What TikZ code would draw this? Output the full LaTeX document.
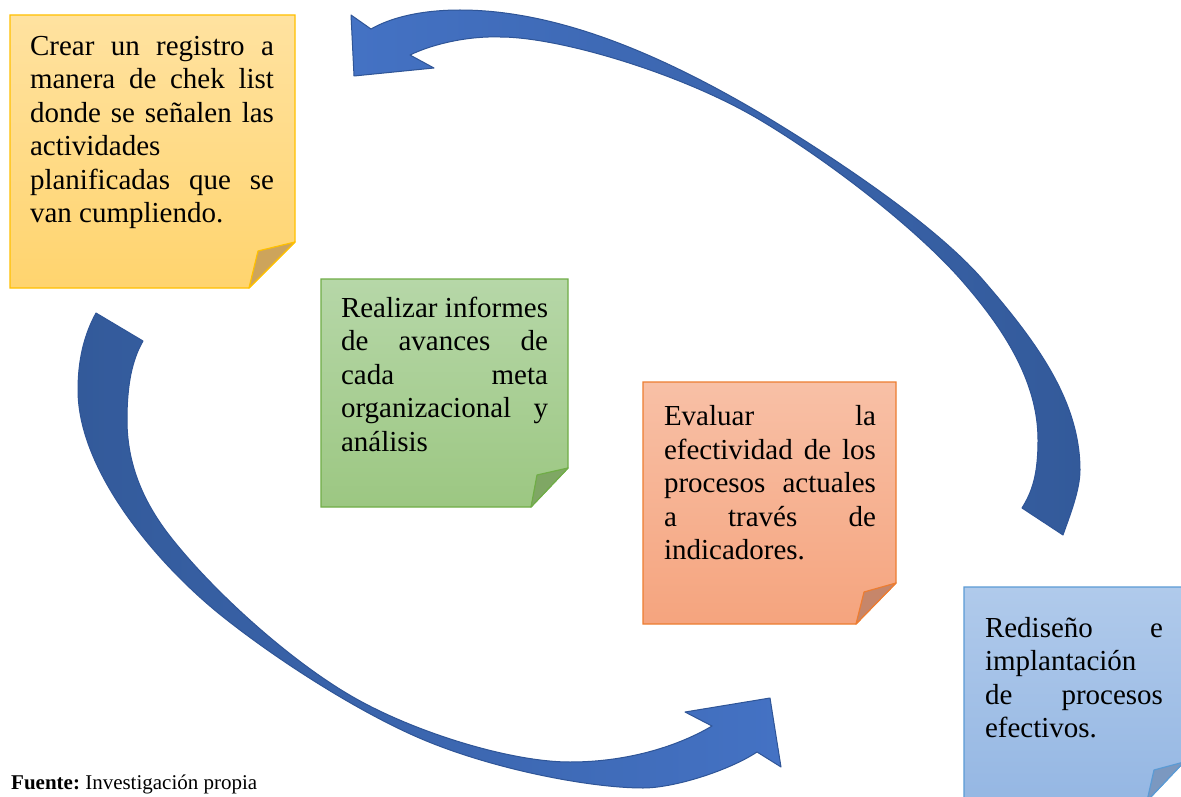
\documentclass[tikz,border=0pt]{standalone}
\usepackage{fontspec}
\setmainfont{Liberation Serif}
\definecolor{yTop}{HTML}{FFE2A0}
\definecolor{yBot}{HTML}{FFD46E}
\definecolor{yBrd}{HTML}{FFC000}
\definecolor{yFold}{HTML}{CDA45B}
\definecolor{gTop}{HTML}{B6D7A8}
\definecolor{gBot}{HTML}{9CC782}
\definecolor{gBrd}{HTML}{70AD47}
\definecolor{gFold}{HTML}{7FA764}
\definecolor{oTop}{HTML}{F8C0A6}
\definecolor{oBot}{HTML}{F5A47E}
\definecolor{oBrd}{HTML}{ED7D31}
\definecolor{oFold}{HTML}{C6866A}
\definecolor{bTop}{HTML}{B0CAEB}
\definecolor{bBot}{HTML}{95B7E3}
\definecolor{bBrd}{HTML}{5B9BD5}
\definecolor{bFold}{HTML}{7B98C0}
\definecolor{arLight}{HTML}{4472C4}
\definecolor{arDark}{HTML}{335A9A}
\definecolor{arBrd}{HTML}{2F5597}
\newcommand{\jline}[2]{\makebox[#1][s]{#2}}
\begin{document}
\begin{tikzpicture}[x=1pt,y=-1pt,
  txt/.style={anchor=north west, inner sep=0pt, outer sep=0pt, align=left,
    font=\fontsize{29}{33.5}\selectfont},
  note/.style={line width=1.2pt},
  fold/.style={line width=1.2pt, line join=round},
  arrowshape/.style={draw=arBrd, line width=1pt, line join=round}]
\useasboundingbox (0,0) rectangle (1181,797);
\clip (0,0) rectangle (1181,797);
\fill[white] (0,0) rectangle (1181,797);

% top arrow (returns to the yellow note)
\path[arrowshape, left color=arLight, middle color=arDark, right color=arDark]
  (1022,508) -- (1063,535)
  .. controls (1070,515) and (1080,490) .. (1080,470)
  .. controls (1080,400) and (1035,340) .. (983,280)
  .. controls (931,220) and (820,149) .. (760,113)
  .. controls (665,57) and (560,10) .. (460,10)
  .. controls (420,10) and (390,18) .. (371,29)
  -- (351,15) -- (354,76) -- (434,68) -- (410,55)
  .. controls (435,43) and (470,36) .. (500,37)
  .. controls (560,37) and (683,74) .. (760,120)
  .. controls (829,161) and (917,229) .. (963,282)
  .. controls (1002,327) and (1038,380) .. (1038,440)
  .. controls (1038,475) and (1032,492) .. (1022,508)
  -- cycle;

% bottom arrow (towards the blue note)
\path[arrowshape, left color=arDark, middle color=arDark, right color=arLight]
  (143,341) -- (96,313)
  .. controls (84,335) and (78,360) .. (78,390)
  .. controls (78,470) and (155,561) .. (217,612)
  .. controls (271,656) and (353,709) .. (417,737)
  .. controls (490,769) and (590,788) .. (643,788)
  .. controls (675,788) and (730,770) .. (757,752)
  -- (781,767) -- (770,698) -- (685,712) -- (712,726)
  .. controls (680,745) and (630,762) .. (570,762)
  .. controls (510,762) and (414,732) .. (353,697)
  .. controls (292,662) and (217,595) .. (173,540)
  .. controls (148,509) and (127,470) .. (127,420)
  .. controls (127,385) and (132,360) .. (143,341)
  -- cycle;

% yellow note
\path[note, draw=yBrd, top color=yTop, bottom color=yBot]
  (10,15) -- (295,15) -- (295,242) -- (249,288) -- (10,288) -- cycle;
\path[fold, draw=yBrd, fill=yFold] (295,242) -- (258,251) -- (249,288) -- cycle;
\node[txt] (t1) at (30,31.55) {\strut\jline{244pt}{Crear un registro a}\\
  \jline{244pt}{manera de chek list}\\
  \jline{244pt}{donde se señalen las}\\
  actividades\\
  \jline{244pt}{planificadas que se}\\
  van cumpliendo.};

% green note
\path[note, draw=gBrd, top color=gTop, bottom color=gBot]
  (321,279) -- (568,279) -- (568,468) -- (531,507) -- (321,507) -- cycle;
\path[fold, draw=gBrd, fill=gFold] (568,468) -- (537,475) -- (531,507) -- cycle;
\node[txt] (t2) at (341,293.55) {\strut\jline{207pt}{Realizar informes}\\
  \jline{207pt}{de avances de}\\
  \jline{207pt}{cada meta}\\
  \jline{207pt}{organizacional y}\\
  análisis};

% orange note
\path[note, draw=oBrd, top color=oTop, bottom color=oBot]
  (643,382) -- (896,382) -- (896,583) -- (856,624) -- (643,624) -- cycle;
\path[fold, draw=oBrd, fill=oFold] (896,583) -- (864,592) -- (856,624) -- cycle;
\node[txt] (t3) at (664,402.05) {\strut\jline{212pt}{Evaluar la}\\
  \jline{212pt}{efectividad de los}\\
  \jline{212pt}{procesos actuales}\\
  \jline{212pt}{a través de}\\
  indicadores.};

% blue note
\path[note, draw=bBrd, top color=bTop, bottom color=bBot]
  (964,587) -- (1184,587) -- (1184,762) -- (1147,801) -- (964,801) -- cycle;
\path[fold, draw=bBrd, fill=bFold] (1184,762) -- (1154,770) -- (1147,801) -- cycle;
\node[txt] (t4) at (985,613.55) {\strut\jline{178pt}{Rediseño e}\\
  implantación\\
  \jline{178pt}{de procesos}\\
  efectivos.};

% source line
\node[anchor=base west, inner sep=0pt, font=\fontsize{21}{25}\selectfont] (src) at (11,789)
  {\textbf{Fuente:}\ Investigación propia};
\end{tikzpicture}
\end{document}
